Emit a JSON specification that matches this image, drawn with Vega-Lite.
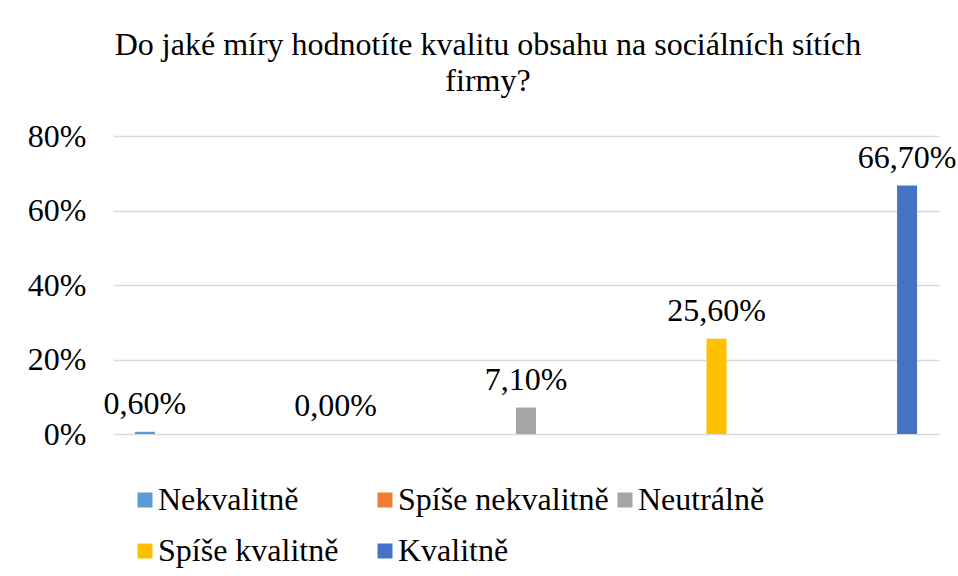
{
  "$schema": "https://vega.github.io/schema/vega-lite/v6.json",
  "width": 826,
  "height": 298,
  "autosize": {"type": "none"},
  "padding": {"left": 113, "top": 136, "right": 19, "bottom": 142},
  "background": "white",
  "config": {
    "locale": {"number": {"decimal": ",", "thousands": " ", "grouping": [3], "currency": ["", " Kč"]}},
    "font": "Liberation Serif, Times New Roman, DejaVu Serif, serif",
    "view": {"stroke": null}
  },
  "title": {
    "text": ["Do jaké míry hodnotíte kvalitu obsahu na sociálních sítích", "firmy?"],
    "font": "Liberation Serif, Times New Roman, DejaVu Serif, serif",
    "fontSize": 32,
    "fontWeight": "normal",
    "color": "#000000",
    "anchor": "middle",
    "dx": -38,
    "lineHeight": 36,
    "offset": 22
  },
  "data": {
    "values": [
      {"kategorie": "Nekvalitně", "podil": 0.006},
      {"kategorie": "Spíše nekvalitně", "podil": 0.0},
      {"kategorie": "Neutrálně", "podil": 0.071},
      {"kategorie": "Spíše kvalitně", "podil": 0.256},
      {"kategorie": "Kvalitně", "podil": 0.667}
    ]
  },
  "encoding": {
    "x": {
      "field": "kategorie",
      "type": "nominal",
      "sort": null,
      "scale": {"paddingInner": 0.895, "paddingOuter": 0.115},
      "axis": null
    },
    "y": {
      "field": "podil",
      "type": "quantitative",
      "scale": {"domain": [0, 0.8]},
      "axis": {
        "values": [0, 0.2, 0.4, 0.6, 0.8],
        "format": ".0%",
        "title": null,
        "domain": false,
        "ticks": false,
        "labelFont": "Liberation Serif, Times New Roman, DejaVu Serif, serif",
        "labelFontSize": 32,
        "labelColor": "#000000",
        "labelPadding": 27,
        "gridColor": "#d9d9d9",
        "gridWidth": 1.5
      }
    }
  },
  "layer": [
    {
      "mark": {"type": "bar"},
      "encoding": {
        "color": {
          "field": "kategorie",
          "type": "nominal",
          "sort": null,
          "scale": {
            "domain": ["Nekvalitně", "Spíše nekvalitně", "Neutrálně", "Spíše kvalitně", "Kvalitně"],
            "range": ["#5B9BD5", "#ED7D31", "#A5A5A5", "#FFC000", "#4472C4"]
          },
          "legend": {
            "title": null,
            "orient": "none",
            "legendX": 16,
            "legendY": 348,
            "direction": "horizontal",
            "columns": 3,
            "gridAlign": "all",
            "columnPadding": -4,
            "rowPadding": 19,
            "symbolType": "square",
            "symbolSize": 225,
            "symbolStrokeWidth": 0,
            "labelFont": "Liberation Serif, Times New Roman, DejaVu Serif, serif",
            "labelFontSize": 32,
            "labelColor": "#000000",
            "labelOffset": -3,
            "labelLimit": 400
          }
        }
      }
    },
    {
      "mark": {"type": "text", "baseline": "alphabetic", "dy": -18, "font": "Liberation Serif, Times New Roman, DejaVu Serif, serif", "fontSize": 32, "color": "#000000"},
      "encoding": {
        "text": {"field": "podil", "type": "quantitative", "format": ".2%"}
      }
    }
  ]
}
